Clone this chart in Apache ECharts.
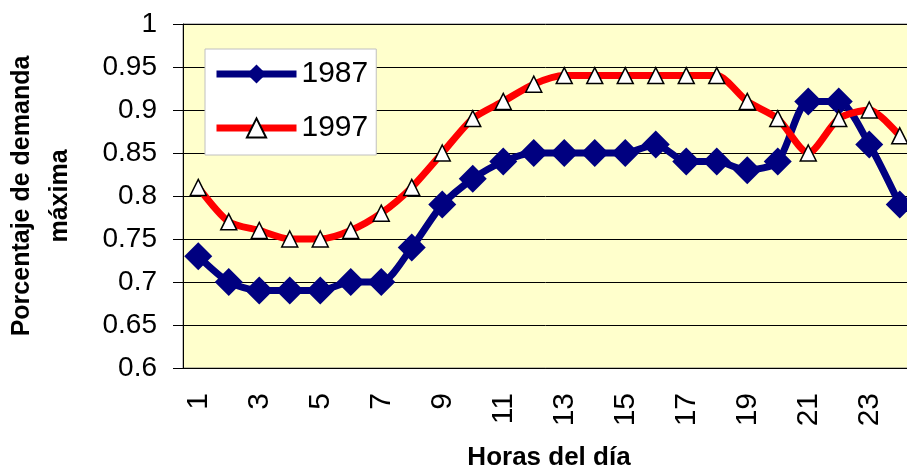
<!DOCTYPE html>
<html>
<head>
<meta charset="utf-8">
<script src="https://cdn.jsdelivr.net/npm/echarts@6/dist/echarts.min.js"></script>
<style>
  html, body { margin: 0; padding: 0; background: #fff; }
  #chart { width: 907px; height: 472px; }
</style>
</head>
<body>
<div id="chart"></div>
<script>
  // horas del dia
  var horas = ['1', '2', '3', '4', '5', '6', '7', '8', '9', '10', '11', '12',
    '13', '14', '15', '16', '17', '18', '19', '20', '21', '22', '23', '24']
  var serie1987 = [0.73, 0.70, 0.69, 0.69, 0.69, 0.70, 0.70, 0.74, 0.79, 0.82, 0.84, 0.85,
    0.85, 0.85, 0.85, 0.86, 0.84, 0.84, 0.83, 0.84, 0.91, 0.91, 0.86, 0.79]
  var serie1997 = [0.81, 0.77, 0.76, 0.75, 0.75, 0.76, 0.78, 0.81, 0.85, 0.89, 0.91, 0.93,
    0.94, 0.94, 0.94, 0.94, 0.94, 0.94, 0.91, 0.89, 0.85, 0.89, 0.90, 0.87]

  var fuente = 'Arial, "Liberation Sans", sans-serif'
  var chart = echarts.init(document.getElementById('chart'))
  chart.setOption({
    animation: false,
    grid: {
      left: 183,
      top: 24,
      right: -8,
      bottom: 104,
      containLabel: false,
      outerBoundsMode: 'none',
      show: true,
      backgroundColor: '#FFFFCC',
      borderColor: '#808080',
      borderWidth: 1
    },
    legend: {
      orient: 'vertical',
      left: 205,
      top: 49,
      backgroundColor: '#fff',
      borderColor: '#c0c0c0',
      borderWidth: 1,
      padding: [10, 8, 12, 8],
      itemWidth: 80,
      itemHeight: 24,
      itemGap: 24,
      lineStyle: { width: 7 },
      textStyle: { fontSize: 30, fontFamily: fuente, color: '#000', lineHeight: 30 },
      data: ['1987', '1997']
    },
    xAxis: {
      type: 'category',
      data: horas,
      boundaryGap: true,
      name: 'Horas del día',
      nameLocation: 'middle',
      nameGap: 77,
      nameTextStyle: { fontSize: 26, fontWeight: 'bold', fontFamily: fuente, color: '#000' },
      axisLine: { lineStyle: { color: '#000', width: 1 } },
      axisTick: { interval: 0, length: 10, lineStyle: { color: '#000' } },
      axisLabel: { interval: 1, rotate: 90, margin: 25, fontSize: 30, fontFamily: fuente, color: '#000' },
      splitLine: { show: false }
    },
    yAxis: {
      type: 'value',
      min: 0.6,
      max: 1,
      interval: 0.05,
      name: 'Porcentaje de demanda\nmáxima',
      nameLocation: 'middle',
      nameGap: 104,
      nameRotate: 90,
      nameTextStyle: { fontSize: 25, fontWeight: 'bold', fontFamily: fuente, color: '#000', lineHeight: 38 },
      axisLine: { show: true, lineStyle: { color: '#000', width: 1 } },
      axisTick: { show: true, length: 10, lineStyle: { color: '#000' } },
      axisLabel: { margin: 26, fontSize: 28, fontFamily: fuente, color: '#000' },
      splitLine: { lineStyle: { color: '#000', width: 1 } }
    },
    series: [
      {
        name: '1987',
        type: 'line',
        data: serie1987,
        smooth: 0.25,
        symbol: 'diamond',
        symbolSize: 28,
        showAllSymbol: true,
        lineStyle: { color: '#000080', width: 7 },
        itemStyle: { color: '#000080' }
      },
      {
        name: '1997',
        type: 'line',
        data: serie1997,
        smooth: 0.25,
        symbol: 'triangle',
        symbolSize: 16,
        showAllSymbol: true,
        lineStyle: { color: '#FF0000', width: 7 },
        itemStyle: { color: '#fff', borderColor: '#000', borderWidth: 1.5 }
      }
    ]
  })
</script>
</body>
</html>
